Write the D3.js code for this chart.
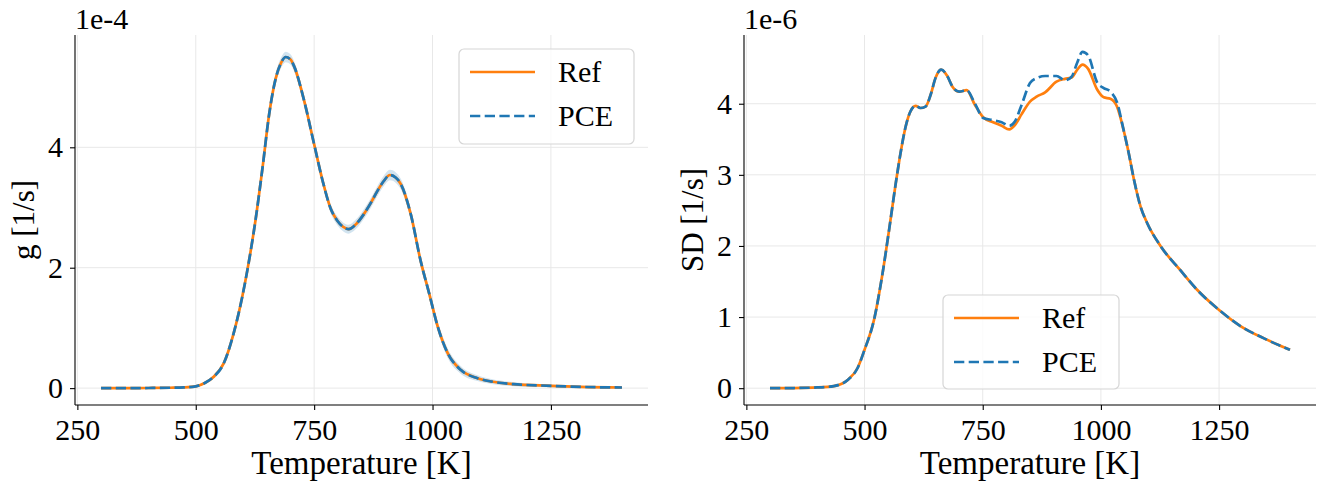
<!DOCTYPE html>
<html>
<head>
<meta charset="utf-8">
<script src="https://cdn.jsdelivr.net/npm/d3@7"></script>
<style>
    html, body { margin: 0; padding: 0; background: #fff; }
    svg text { font-family: "Liberation Serif", "Times New Roman", serif; fill: #000; }
</style>
</head>
<body>
<svg id="chart" width="1320" height="483"></svg>
<script>
// ── Data ──────────────────────────────────────────────────

// left panel: g [1e-4 1/s], Ref and PCE coincide
const gTemp = [300, 350, 400, 446, 475, 500, 520, 538, 559, 580, 598, 609, 626, 641, 655, 669, 680, 690, 700, 708,
    729, 750, 768, 785, 799, 811, 823, 838, 855, 870, 884, 897, 910, 922, 933, 954, 975, 993, 1011, 1032,
    1060, 1095, 1124, 1171, 1250, 1314, 1400];
const gRef = [0, 0, 0.002, 0.006, 0.012, 0.03, 0.09, 0.19, 0.41, 0.91, 1.51, 1.96, 2.78, 3.66, 4.55, 5.15, 5.40, 5.50, 5.46, 5.34,
    4.77, 4.05, 3.44, 2.98, 2.78, 2.68, 2.64, 2.72, 2.89, 3.08, 3.28, 3.44, 3.54, 3.50, 3.39, 2.89, 2.11, 1.57, 1.02, 0.58,
    0.30, 0.165, 0.11, 0.066, 0.038, 0.02, 0.01];
const gPce = gRef.slice();
// half width of the shaded band
const gBand = [0, 0, 0.0002, 0.001, 0.004, 0.011, 0.019, 0.031, 0.045, 0.062, 0.078, 0.079, 0.079, 0.083, 0.088, 0.089, 0.087, 0.086, 0.084, 0.084,
    0.081, 0.076, 0.075, 0.074, 0.073, 0.073, 0.074, 0.079, 0.081, 0.082, 0.083, 0.086, 0.087, 0.087, 0.088, 0.09, 0.088, 0.083, 0.081, 0.08,
    0.064, 0.047, 0.04, 0.033, 0.022, 0.016, 0.011];

// right panel: SD [1e-6 1/s]
const sdTemp = [300, 350, 400, 435, 465, 485, 500, 520, 537, 552, 566, 576, 587, 597, 608, 618, 629, 640, 650, 662,
    675, 686, 700, 716, 733, 751, 772, 790, 806, 818, 832, 850, 864, 882, 906, 924, 938, 950, 961, 973,
    992, 1006, 1020, 1034, 1048, 1059, 1070, 1084, 1098, 1126, 1168, 1204, 1250, 1296, 1345, 1400];
const sdRef = [0, 0.002, 0.01, 0.03, 0.12, 0.28, 0.54, 0.96, 1.57, 2.23, 2.88, 3.30, 3.68, 3.89, 3.97, 3.94, 3.96, 4.13, 4.36, 4.48,
    4.39, 4.24, 4.17, 4.19, 3.99, 3.81, 3.74, 3.69, 3.64, 3.70, 3.85, 4.03, 4.10, 4.16, 4.31, 4.35, 4.37, 4.48, 4.55, 4.49,
    4.20, 4.09, 4.07, 3.96, 3.63, 3.30, 2.93, 2.55, 2.32, 2.00, 1.66, 1.38, 1.10, 0.87, 0.70, 0.54];
const sdPce = [0, 0.002, 0.01, 0.03, 0.12, 0.28, 0.54, 0.96, 1.57, 2.23, 2.88, 3.30, 3.68, 3.89, 3.97, 3.94, 3.96, 4.13, 4.36, 4.48,
    4.39, 4.24, 4.17, 4.19, 4.01, 3.80, 3.77, 3.74, 3.69, 3.75, 3.98, 4.29, 4.36, 4.39, 4.39, 4.33, 4.38, 4.58, 4.73, 4.68,
    4.30, 4.22, 4.17, 4.02, 3.63, 3.30, 2.93, 2.55, 2.32, 2.00, 1.66, 1.38, 1.10, 0.87, 0.70, 0.54];

const xTicks = [250, 500, 750, 1000, 1250];
const seriesNames = ['Ref', 'PCE'];

const C_REF = '#ff7f0e';
const C_PCE = '#1f77b4';
const FONT = 30;

const svg = d3.select('#chart');

function drawPanel(p) {
    const g = svg.append('g');
    const x = d3.scaleLinear().domain([245, 1455]).range([p.left, p.right]);

    // y domain like matplotlib autoscale: 5% margins
    let lo = d3.min(p.lo), hi = d3.max(p.hi);
    const pad = (hi - lo) * 0.05;
    const y = d3.scaleLinear().domain([lo - pad, hi + pad]).range([p.bottom, p.top]);

    // grid
    g.append('g').selectAll('line').data(xTicks).enter().append('line')
        .attr('x1', d => x(d)).attr('x2', d => x(d))
        .attr('y1', p.top).attr('y2', p.bottom)
        .attr('stroke', '#e8e8e8').attr('stroke-width', 1);
    g.append('g').selectAll('line').data(p.yTicks).enter().append('line')
        .attr('x1', p.left).attr('x2', p.right)
        .attr('y1', d => y(d)).attr('y2', d => y(d))
        .attr('stroke', '#e8e8e8').attr('stroke-width', 1);

    // band
    if (p.band) {
        const area = d3.area()
            .x((d, i) => x(p.temp[i]))
            .y0((d, i) => y(p.ref[i] - p.band[i]))
            .y1((d, i) => y(p.ref[i] + p.band[i]))
            .curve(d3.curveMonotoneX);
        g.append('path').datum(p.temp).attr('d', area)
            .attr('fill', C_PCE).attr('fill-opacity', 0.2);
    }

    const line = vals => d3.line()
        .x((d, i) => x(p.temp[i]))
        .y((d, i) => y(vals[i]))
        .curve(d3.curveMonotoneX)(p.temp);

    g.append('path').attr('d', line(p.ref))
        .attr('fill', 'none').attr('stroke', C_REF).attr('stroke-width', 2.7)
        .attr('stroke-linejoin', 'round');
    g.append('path').attr('d', line(p.pce))
        .attr('fill', 'none').attr('stroke', C_PCE).attr('stroke-width', 2.7)
        .attr('stroke-dasharray', '10.3,4.4');

    // axes
    const xAxis = g.append('g').attr('transform', `translate(0,${p.bottom})`)
        .call(d3.axisBottom(x).tickValues(xTicks).tickFormat(d3.format('d'))
            .tickSize(5).tickPadding(9).tickSizeOuter(0));
    const yAxis = g.append('g').attr('transform', `translate(${p.left},0)`)
        .call(d3.axisLeft(y).tickValues(p.yTicks).tickFormat(d3.format('d'))
            .tickSize(5).tickPadding(7).tickSizeOuter(0));
    [xAxis, yAxis].forEach(a => {
        a.select('.domain').attr('stroke', '#000').attr('stroke-width', 1.1);
        a.selectAll('.tick line').attr('stroke', '#000').attr('stroke-width', 1.1);
        a.selectAll('.tick text').style('font-size', FONT + 'px')
            .style('font-family', '"Liberation Serif", serif').attr('fill', '#000');
    });
    // spine runs the full height / width
    xAxis.select('.domain').attr('d', `M${p.left},0H${p.right}`);
    yAxis.select('.domain').attr('d', `M0,${p.top}V${p.bottom}`);

    // offset text
    g.append('text').attr('x', p.left).attr('y', 29)
        .style('font-size', FONT + 'px').text(p.offset);

    // axis labels
    g.append('text').attr('x', (p.left + p.right) / 2).attr('y', 474)
        .attr('text-anchor', 'middle').style('font-size', '33px')
        .text('Temperature [K]');
    g.append('text')
        .attr('transform', `translate(${p.ylabX},${(p.top + p.bottom) / 2}) rotate(-90)`)
        .attr('text-anchor', 'middle').style('font-size', '31px')
        .text(p.ylabel);

    // legend
    const L = p.legend;
    const leg = g.append('g');
    leg.append('rect').attr('x', L.x).attr('y', L.y).attr('width', L.w).attr('height', L.h)
        .attr('rx', 5).attr('fill', '#fff').attr('fill-opacity', 0.8)
        .attr('stroke', '#d6d6d6').attr('stroke-width', 1.2);
    seriesNames.forEach((name, i) => {
        const ly = L.y + 23 + i * 44;
        leg.append('line').attr('x1', L.x + 11).attr('x2', L.x + 76)
            .attr('y1', ly).attr('y2', ly)
            .attr('stroke', i === 0 ? C_REF : C_PCE).attr('stroke-width', 2.7)
            .attr('stroke-dasharray', i === 0 ? null : '10.3,4.4');
        leg.append('text').attr('x', L.x + 99).attr('y', ly + 10)
            .style('font-size', FONT + 'px').text(name);
    });
}

drawPanel({
    left: 75, right: 648, top: 35, bottom: 405,
    temp: gTemp, ref: gRef, pce: gPce, band: gBand,
    lo: gRef.map((v, i) => v - gBand[i]), hi: gRef.map((v, i) => v + gBand[i]),
    yTicks: [0, 2, 4], offset: '1e-4', ylabel: 'g [1/s]', ylabX: 34,
    legend: { x: 459, y: 49, w: 175, h: 95 }
});

drawPanel({
    left: 744, right: 1316, top: 35, bottom: 405,
    temp: sdTemp, ref: sdRef, pce: sdPce, band: null,
    lo: sdRef.concat(sdPce), hi: sdRef.concat(sdPce),
    yTicks: [0, 1, 2, 3, 4], offset: '1e-6', ylabel: 'SD [1/s]', ylabX: 703,
    legend: { x: 943, y: 295, w: 176, h: 94 }
});
</script>
</body>
</html>
